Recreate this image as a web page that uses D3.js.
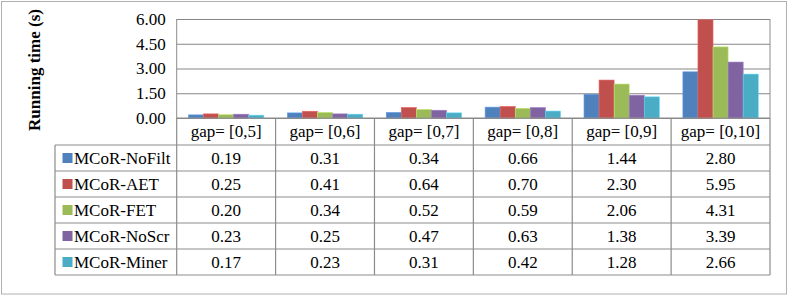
<!DOCTYPE html>
<html>
<head>
<meta charset="utf-8">
<script src="https://cdn.jsdelivr.net/npm/d3@7"></script>
<style>
  body { margin: 0; background: #fff; }
</style>
</head>
<body>
<div id="chart"></div>
<script>
const categories = ["gap= [0,5]", "gap= [0,6]", "gap= [0,7]", "gap= [0,8]", "gap= [0,9]", "gap= [0,10]"]
const series = ["MCoR-NoFilt", "MCoR-AET", "MCoR-FET", "MCoR-NoScr", "MCoR-Miner"]
const noFilt = [0.19, 0.31, 0.34, 0.66, 1.44, 2.80]
const aet = [0.25, 0.41, 0.64, 0.70, 2.30, 5.95]
const fet = [0.20, 0.34, 0.52, 0.59, 2.06, 4.31]
const noScr = [0.23, 0.25, 0.47, 0.63, 1.38, 3.39]
const miner = [0.17, 0.23, 0.31, 0.42, 1.28, 2.66]
const yTicks = [0, 1.5, 3, 4.5, 6]
const color = ["#4F81BD", "#C0504D", "#9BBB59", "#8064A2", "#4BACC6"]

const values = [noFilt, aet, fet, noScr, miner]

const width = 789, height = 296
const plot = { left: 176.7, right: 770, top: 19, bottom: 118 }
const catRow = 27
const rowH = 26
const tableLeft = 55
const tableTop = plot.bottom + catRow
const serif = '"Liberation Serif", "Times New Roman", serif'

const svg = d3.select("#chart")
  .append("svg")
  .attr("width", width)
  .attr("height", height)

// outer frame
svg.append("rect")
  .attr("x", 1.5).attr("y", 1.5)
  .attr("width", 785).attr("height", 292.5)
  .attr("fill", "none")
  .attr("stroke", "#b0b0b0")

const x = d3.scaleBand().domain(categories).range([plot.left, plot.right])
const xs = d3.scaleBand().domain(series).range([0, x.bandwidth()]).paddingOuter(0.78)
const y = d3.scaleLinear().domain([0, 6]).range([plot.bottom, plot.top])

// grid lines
svg.append("g")
  .attr("transform", `translate(${plot.left},0)`)
  .call(d3.axisLeft(y).tickValues(yTicks).tickSize(-(plot.right - plot.left)).tickFormat(""))
  .call(g => g.select(".domain").remove())
  .selectAll("line").attr("stroke", "#868686")

// y tick labels
svg.append("g")
  .attr("transform", `translate(${plot.left - 11},0)`)
  .call(d3.axisLeft(y).tickValues(yTicks).tickSize(0).tickPadding(0).tickFormat(d3.format(".2f")))
  .call(g => g.select(".domain").remove())
  .selectAll("text")
  .style("font-family", serif)
  .style("font-size", "17px")
  .attr("fill", "#000")

// bars
series.forEach((s, i) => {
  svg.append("g")
    .selectAll("rect")
    .data(values[i])
    .enter()
    .append("rect")
    .attr("x", (d, j) => x(categories[j]) + xs(s))
    .attr("y", d => y(d))
    .attr("width", xs.bandwidth())
    .attr("height", d => y(0) - y(d))
    .attr("fill", color[i])
    .attr("stroke", d3.color(color[i]).brighter(0.6))
    .attr("stroke-width", 0.6)
})

// axis frame
const lineColor = "#8c8c8c"
svg.append("line")
  .attr("x1", plot.left).attr("x2", plot.left)
  .attr("y1", plot.top).attr("y2", plot.bottom)
  .attr("stroke", lineColor)
svg.append("line")
  .attr("x1", plot.right).attr("x2", plot.right)
  .attr("y1", plot.top).attr("y2", plot.bottom)
  .attr("stroke", lineColor)

// data table
const tbl = svg.append("g").attr("stroke", lineColor).attr("stroke-width", 1.2)
const rowYs = d3.range(series.length + 1).map(k => tableTop + k * rowH)
tbl.append("line")
  .attr("x1", plot.left).attr("x2", plot.right)
  .attr("y1", plot.bottom).attr("y2", plot.bottom)
rowYs.forEach(ry => {
  tbl.append("line")
    .attr("x1", tableLeft).attr("x2", plot.right)
    .attr("y1", ry).attr("y2", ry)
})
tbl.append("line")
  .attr("x1", tableLeft).attr("x2", tableLeft)
  .attr("y1", tableTop).attr("y2", rowYs[rowYs.length - 1])
categories.concat([null]).forEach((c, j) => {
  const vx = c ? x(c) : plot.right
  tbl.append("line")
    .attr("x1", vx).attr("x2", vx)
    .attr("y1", plot.bottom).attr("y2", rowYs[rowYs.length - 1])
})

// category labels
svg.selectAll(".cat")
  .data(categories)
  .enter()
  .append("text")
  .attr("class", "cat")
  .attr("x", d => x(d) + x.bandwidth() / 2)
  .attr("y", plot.bottom + catRow / 2)
  .attr("dy", "0.35em")
  .attr("text-anchor", "middle")
  .style("font-family", serif)
  .style("font-size", "17px")
  .text(d => d)

// rows
series.forEach((s, i) => {
  const cy = tableTop + i * rowH + rowH / 2
  svg.append("rect")
    .attr("x", 62.5).attr("y", cy - 5)
    .attr("width", 10).attr("height", 10)
    .attr("fill", color[i])
  svg.append("text")
    .attr("x", 74)
    .attr("y", cy)
    .attr("dy", "0.35em")
    .style("font-family", serif)
    .style("font-size", "17px")
    .text(s)
  svg.append("g")
    .selectAll("text")
    .data(values[i])
    .enter()
    .append("text")
    .attr("x", (d, j) => x(categories[j]) + x.bandwidth() / 2)
    .attr("y", cy)
    .attr("dy", "0.35em")
    .attr("text-anchor", "middle")
    .style("font-family", serif)
    .style("font-size", "17px")
    .text(d => d3.format(".2f")(d))
})

// y axis title
svg.append("text")
  .attr("transform", "translate(40,70) rotate(-90)")
  .attr("text-anchor", "middle")
  .style("font-family", serif)
  .style("font-size", "17px")
  .style("font-weight", "bold")
  .text("Running time (s)")
</script>
</body>
</html>
